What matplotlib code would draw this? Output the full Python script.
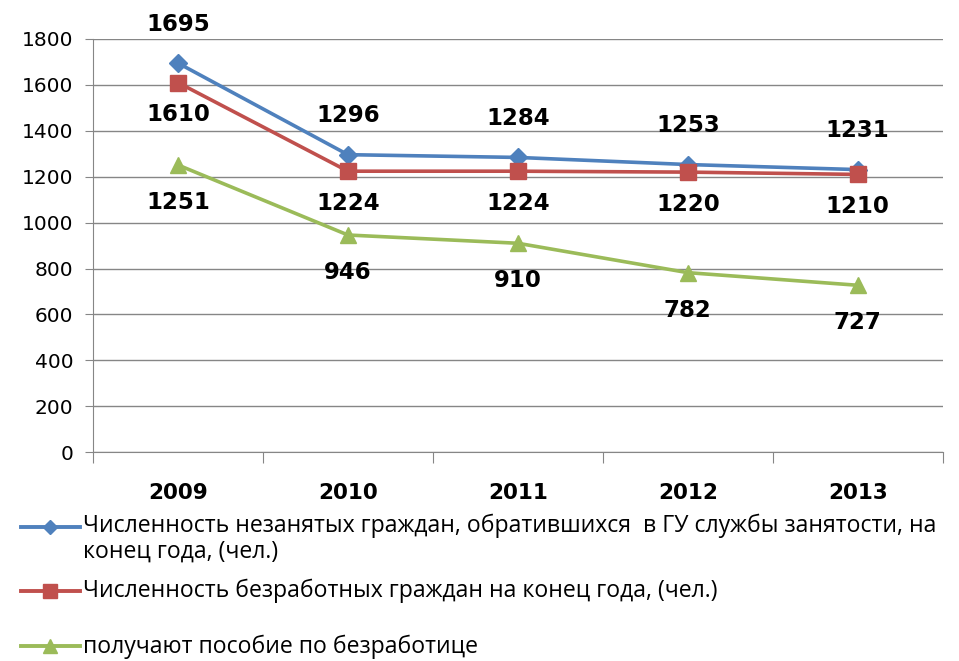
import matplotlib as mpl
from matplotlib import pyplot as plt
from matplotlib.lines import Line2D

years = ['2009', '2010', '2011', '2012', '2013']
not_employed = [1695, 1296, 1284, 1253, 1231]
unemployed = [1610, 1224, 1224, 1220, 1210]
benefit = [1251, 946, 910, 782, 727]

labels = [
    'Численность незанятых граждан, обратившихся  в ГУ службы занятости, на\nконец года, (чел.)',
    'Численность безработных граждан на конец года, (чел.)',
    'получают пособие по безработице',
]
colors = ['#4F81BD', '#C0504D', '#9BBB59']
markers = ['D', 's', '^']
msizes = [9, 12, 12]
# label offsets in points (vertical)
offsets = [28, -23, -27]

fig = plt.figure(figsize=(9.59, 6.61), dpi=100)
ax = fig.add_axes([0.097, 0.316, 0.886, 0.625])

x = list(range(len(years)))
series = [not_employed, unemployed, benefit]
for vals, c, m, ms, off in zip(series, colors, markers, msizes, offsets):
    ax.plot(x, vals, color=c, lw=2.6, marker=m, ms=ms, zorder=3)
    for xi, v in zip(x, vals):
        ax.annotate(str(v), (xi, v), xytext=(0, off), textcoords='offset points',
                    ha='center', va='center', fontsize=16.5, fontweight='bold',
                    color='black', zorder=4)

ax.set_xlim(-0.5, len(years) - 0.5)
ax.set_ylim(0, 1800)
ax.set_yticks(range(0, 1801, 200))
ax.grid(axis='y', color='#868686', lw=1)
ax.set_axisbelow(True)
for s in ['top', 'right']:
    ax.spines[s].set_visible(False)
ax.spines['left'].set_color('#868686')
ax.spines['bottom'].set_color('#868686')
ax.tick_params(axis='y', colors='#868686', labelcolor='black', labelsize=14.5, length=6, pad=8)

ax.set_xticks([i - 0.5 for i in range(len(years) + 1)])
ax.set_xticklabels([])
ax.set_xticks(x, minor=True)
ax.set_xticklabels(years, minor=True, fontsize=15.5, fontweight='bold')
ax.tick_params(axis='x', which='major', colors='#868686', length=8)
ax.tick_params(axis='x', which='minor', length=0, pad=22)

# legend drawn by hand
leg_y = [0.203, 0.106, 0.022]
for lab, c, m, ms, ly in zip(labels, colors, markers, msizes, leg_y):
    fig.add_artist(Line2D([0.022, 0.083], [ly, ly], transform=fig.transFigure,
                          color=c, lw=2.8))
    fig.add_artist(Line2D([0.052], [ly], transform=fig.transFigure, color=c,
                          marker=m, ms=ms * 0.8))
    fig.text(0.0865, ly, lab, fontsize=16.6, family='Open Sans',
             va='center' if '\n' not in lab else 'top', ha='left', linespacing=1.1)
fig.texts[0].set_y(leg_y[0] + 0.02)

fig.savefig('out.png', dpi=100)
